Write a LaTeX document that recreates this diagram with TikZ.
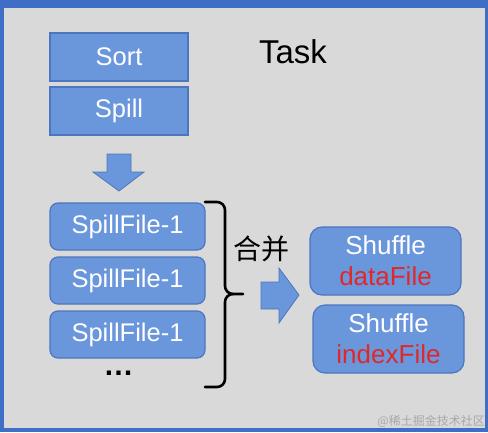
\documentclass[tikz,border=0pt]{standalone}
\usepackage{fontspec}
\setmainfont{Liberation Sans}
\newfontfamily\cjk{Noto Sans CJK SC}
\definecolor{frameblue}{RGB}{62,110,198}
\definecolor{panelgray}{RGB}{217,217,217}
\definecolor{boxfill}{RGB}{106,150,220}
\definecolor{boxline}{RGB}{76,118,190}
\definecolor{redtxt}{RGB}{224,40,40}
\definecolor{wmgray}{RGB}{168,168,168}
\tikzset{
  sqbox/.style={draw=boxline, line width=1.2pt, fill=boxfill, minimum width=138pt, minimum height=48pt, inner sep=0pt, text=white, font=\fontsize{25.5}{30}\selectfont},
  rbox/.style={draw=boxline, line width=1.2pt, fill=boxfill, rounded corners=8pt, minimum width=155pt, minimum height=47pt, inner sep=0pt, text=white, font=\fontsize{25.5}{30}\selectfont},
  shbox/.style={draw=boxline, line width=1.2pt, fill=boxfill, rounded corners=12pt, minimum width=151pt, minimum height=68pt, inner sep=0pt, text=white, align=center, font=\fontsize{26}{31}\selectfont},
  blockarrow/.style={draw=boxline, line width=0.8pt, fill=boxfill},
  bracestyle/.style={line width=2.6pt, line cap=round, line join=round}
}
\begin{document}
\begin{tikzpicture}[x=1pt,y=-1pt]
\useasboundingbox (0,0) rectangle (488,432);
\fill[frameblue] (0,0) rectangle (488,432);
\fill[panelgray] (4,8) rectangle (485,428);

\node[sqbox] (sort) at (119,57) {Sort};
\node[sqbox] (spill) at (119,111) {Spill};
\node[font=\fontsize{33}{38}\selectfont] (task) at (293,52) {Task};

% down block arrow
\draw[blockarrow] (107,154) -- (131,154) -- (131,172) -- (144,172) -- (119,191) -- (93,172) -- (107,172) -- cycle;

\node[rbox] (f1) at (127.5,226.5) {SpillFile-1};
\node[rbox] (f2) at (127.5,280.5) {SpillFile-1};
\node[rbox] (f3) at (127.5,334.5) {SpillFile-1};
\node[anchor=base, inner sep=0pt, font=\fontsize{30}{34}\selectfont\bfseries] (dots) at (118.5,375) {…};

% brace
\draw[bracestyle] (205,202) -- (217,202) to[out=0,in=90] (225,210) -- (225,286) to[out=-90,in=180] (233,294) -- (243,294);
\draw[bracestyle] (233,294) to[out=180,in=90] (225,302) -- (225,379) to[out=-90,in=0] (217,387) -- (205,387);

\node[font=\cjk\fontsize{28}{32}\selectfont] (merge) at (261,249) {合并};

% right block arrow
\draw[blockarrow] (261,282) -- (279,282) -- (279,268) -- (299,295) -- (279,323) -- (279,309) -- (261,309) -- cycle;

\node[shbox] (data) at (385.5,261) {Shuffle\\\textcolor{redtxt}{dataFile}};
\node[shbox] (index) at (388.5,339) {Shuffle\\\textcolor{redtxt}{indexFile}};

\node[anchor=east, text=wmgray, font=\cjk\fontsize{12}{14}\selectfont, inner sep=0pt] (wm) at (485,421) {@稀土掘金技术社区};
\end{tikzpicture}
\end{document}
